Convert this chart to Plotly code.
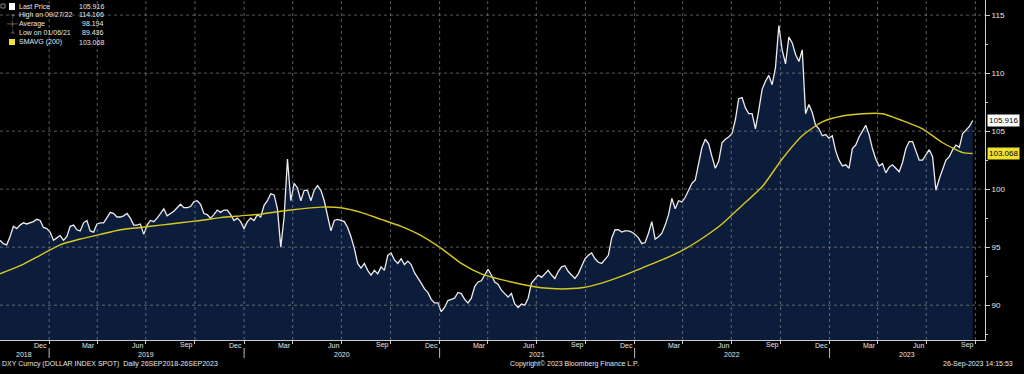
import pandas as pd
import plotly.graph_objects as go

# ---------------- data ----------------
price_2018_2019 = [95.6, 95.3, 95.2, 95.9, 96.8, 96.6, 96.9, 97.1, 97.0, 97.1,
                   97.2, 97.4, 97.3, 96.7, 96.6, 96.3, 95.6, 95.8, 96.0, 95.6,
                   95.9, 96.8, 96.9, 96.5, 96.4, 97.1, 97.3, 96.4, 96.3, 97.0,
                   97.1, 97.1, 97.5, 98.0, 97.9, 97.6, 97.6, 97.7, 97.9, 97.5,
                   96.9, 96.9, 97.0, 96.1, 96.9, 97.3, 97.2, 97.5, 97.9, 98.3,
                   97.7, 97.9, 98.1, 98.4, 98.7, 98.4, 98.4, 98.5, 98.9, 99.0,
                   98.7, 97.9, 97.8, 97.5, 97.8, 98.2, 98.0, 98.2, 98.2, 97.8,
                   97.3, 97.5, 97.2, 96.6, 97.2]
price_2020 = [97.5, 97.3, 97.8, 97.6, 98.6, 99.0, 99.6, 99.5, 98.3, 95.0,
              97.6, 102.6, 99.0, 100.5, 100.1, 99.0, 99.9, 99.9, 99.0, 99.9,
              100.3, 99.9, 99.0, 97.7, 96.4, 97.3, 97.4, 97.3, 97.2, 96.7,
              95.9, 94.9, 93.6, 93.2, 93.6, 93.0, 92.6, 93.0, 92.7, 93.3,
              93.0, 94.3, 94.5, 93.9, 93.6, 94.0, 93.5, 93.8, 93.5, 92.8,
              92.4, 91.9, 91.4, 91.1, 90.5, 90.2, 90.2, 89.44, 89.8, 90.4,
              90.5, 90.6, 91.1, 91.0, 90.5, 90.2, 90.6, 91.6, 92.0, 92.1,
              92.6, 93.1, 92.6, 92.0, 91.8]
price_2021 = [91.3, 91.0, 90.7, 91.0, 90.1, 89.8, 90.1, 90.0, 90.6, 91.9,
              92.3, 92.6, 92.4, 92.7, 93.0, 92.6, 92.3, 92.9, 93.3, 93.4,
              92.9, 92.6, 92.3, 92.7, 93.3, 94.0, 94.3, 94.5, 94.0, 93.7,
              93.6, 94.0, 94.3, 95.8, 96.5, 96.5, 96.3, 96.4, 96.4, 96.3,
              96.1, 95.8, 95.3, 95.4, 96.2, 97.2, 95.7, 95.9, 96.2, 96.9,
              97.8, 99.2, 98.3, 99.0]
price_2022a = [98.9, 99.3, 99.9, 100.5, 100.8, 102.2, 103.6, 104.3, 103.9, 102.8,
               101.8, 102.4, 104.0, 104.3, 104.5, 104.8, 106.0, 107.8, 107.9, 107.0,
               106.5]
price_2022b = [106.5, 105.2, 106.8, 108.6, 109.3, 109.8, 109.0, 110.5, 114.1, 112.0,
               110.8, 113.1, 112.6, 111.6, 111.0, 112.0, 106.5, 107.3, 106.6, 105.5,
               105.2, 104.6, 104.7, 104.4, 104.6, 103.3, 102.5, 102.0, 102.1, 101.8,
               103.5, 103.8, 104.5, 105.0, 105.5, 104.7, 103.5, 102.6, 102.0, 102.2,
               101.4, 101.9, 102.1, 101.8, 101.5, 102.3, 103.5, 104.1, 104.1, 103.3,
               102.5, 102.5, 103.0, 103.4, 102.8, 99.9, 100.9, 101.8, 102.5, 102.8,
               103.4, 103.8, 103.6, 104.8, 105.1, 105.4, 105.916]
last_price = price_2018_2019 + price_2020 + price_2021 + price_2022a + price_2022b

smavg_200 = [92.7, 93.4, 94.3, 95.2, 95.7, 96.1, 96.5, 96.7, 96.9, 97.1,
             97.3, 97.55, 97.7, 97.85, 98.1, 98.3, 98.45, 98.4, 98.0, 97.4,
             96.8, 96.0, 94.9, 93.6, 92.7, 92.2, 91.8, 91.5, 91.4, 91.5,
             91.9, 92.5, 93.2, 93.9, 94.7, 95.75, 97.0, 98.6, 100.2, 102.6,
             104.6, 105.8, 106.3, 106.5, 106.5, 105.9, 105.2, 104.0, 103.15, 103.068]

legend_labels = ["Last Price", "High on 09/27/22", "Average", "Low on 01/06/21", "SMAVG (200)"]
legend_values = ["105.916", "114.106", "98.194", "89.436", "103.068"]
legend_icons = ["", "┬", "─┼─", "┴", ""]

y_ticks = [90, 95, 100, 105, 110, 115]
month_names = {12: "Dec", 3: "Mar", 6: "Jun", 9: "Sep"}
years = [2018, 2019, 2020, 2021, 2022, 2023]

# ---------------- derived positions ----------------
dates = pd.date_range("2018-10-01", "2023-09-26", periods=len(last_price))
sma_dates = list(dates[::6]) + [dates[-1]]

X_START, X_END = "2018-10-01", "2023-10-19"
Y_MIN, Y_MAX = 87.0, 116.3

W, H = 1024, 374
ML, MR, MT, MB = 0, 39, 0, 34
PW, PH = W - ML - MR, H - MT - MB


def px(x):
    return (x - ML) / PW


def py(y):
    return 1 - (y - MT) / PH


grid_dates = [f"{y}-{m:02d}-01" for y in range(2019, 2024) for m in (1, 4, 7, 10)]
label_dates, label_text = [], []
for y in range(2018, 2024):
    for m in (3, 6, 9, 12):
        d = pd.Timestamp(f"{y}-{m:02d}-16")
        if pd.Timestamp(X_START) < d < pd.Timestamp("2023-10-01"):
            label_dates.append(d)
            label_text.append(month_names[m])
year_pos = {2018: "2018-11-15", 2019: "2019-07-02", 2020: "2020-07-02",
            2021: "2021-07-02", 2022: "2022-07-02", 2023: "2023-05-26"}

FONT = "Liberation Sans, Arial, sans-serif"
TXT = "#e6e6e6"
FS = 7

fig = go.Figure()
fig.add_trace(go.Scatter(
    x=dates, y=last_price, mode="lines", name="Last Price",
    line=dict(color="#ececec", width=1.3),
    fill="tozeroy", fillcolor="#0c1d3b", hoverinfo="skip"))
fig.add_trace(go.Scatter(
    x=sma_dates, y=smavg_200, mode="lines", name="SMAVG (200)",
    line=dict(color="#d8c920", width=1.4, shape="spline", smoothing=0.6),
    hoverinfo="skip"))

shapes = []
for d in grid_dates:
    shapes.append(dict(type="line", xref="x", yref="paper", x0=d, x1=d, y0=0, y1=1,
                       line=dict(color="rgba(150,150,150,0.6)", width=1, dash="dot"),
                       layer="above"))
for v in y_ticks:
    shapes.append(dict(type="line", xref="paper", yref="y", x0=0, x1=1, y0=v, y1=v,
                       line=dict(color="rgba(150,150,150,0.6)", width=1, dash="dot"),
                       layer="above"))
for y in years[1:]:
    shapes.append(dict(type="line", xref="x", yref="paper", x0=f"{y}-01-01", x1=f"{y}-01-01",
                       y0=py(348), y1=py(358), line=dict(color="#bbbbbb", width=1)))

annotations = []
for d, t in zip(label_dates, label_text):
    annotations.append(dict(x=d, y=py(345), xref="x", yref="paper", text=t,
                            showarrow=False, font=dict(family=FONT, size=FS, color=TXT),
                            xanchor="center", yanchor="middle"))
for y in years:
    annotations.append(dict(x=year_pos[y], y=py(354), xref="x", yref="paper", text=str(y),
                            showarrow=False, font=dict(family=FONT, size=FS, color=TXT),
                            xanchor="center", yanchor="middle"))
annotations.append(dict(x=px(0), y=py(364), xref="paper", yref="paper",
                        text="DXY Curncy (DOLLAR INDEX SPOT)  Daily 26SEP2018-26SEP2023",
                        showarrow=False, font=dict(family=FONT, size=FS, color=TXT),
                        xanchor="left", yanchor="middle"))
annotations.append(dict(x=px(508), y=py(364), xref="paper", yref="paper",
                        text="Copyright© 2023 Bloomberg Finance L.P.",
                        showarrow=False, font=dict(family=FONT, size=FS, color=TXT),
                        xanchor="left", yanchor="middle"))
annotations.append(dict(x=px(1015), y=py(364), xref="paper", yref="paper",
                        text="26-Sep-2023 14:15:53",
                        showarrow=False, font=dict(family=FONT, size=FS, color=TXT),
                        xanchor="right", yanchor="middle"))
# last value tags on the right axis
annotations.append(dict(x=1, xshift=2, y=last_price[-1], xref="paper", yref="y",
                        text=f"{last_price[-1]:.3f}", showarrow=False, bgcolor="#ffffff",
                        font=dict(family=FONT, size=FS + 1, color="#000000"),
                        xanchor="left", yanchor="middle", borderpad=1))
annotations.append(dict(x=1, xshift=2, y=smavg_200[-1], xref="paper", yref="y",
                        text=f"{smavg_200[-1]:.3f}", showarrow=False, bgcolor="#f0e030",
                        font=dict(family=FONT, size=FS + 1, color="#000000"),
                        xanchor="left", yanchor="middle", borderpad=1))
# legend block
row_y = [6, 15, 24, 33, 42]
for i, (lab, val, ic) in enumerate(zip(legend_labels, legend_values, legend_icons)):
    annotations.append(dict(x=px(17), y=py(row_y[i]), xref="paper", yref="paper", text=lab,
                            showarrow=False, font=dict(family=FONT, size=FS, color=TXT),
                            xanchor="left", yanchor="middle"))
    annotations.append(dict(x=px(106), y=py(row_y[i]), xref="paper", yref="paper", text=val,
                            showarrow=False, font=dict(family=FONT, size=FS, color=TXT),
                            xanchor="right", yanchor="middle"))
    if ic:
        annotations.append(dict(x=px(12), y=py(row_y[i]), xref="paper", yref="paper", text=ic,
                                showarrow=False, font=dict(family="DejaVu Sans", size=6, color="#aaaaaa"),
                                xanchor="center", yanchor="middle"))
shapes.append(dict(type="rect", xref="paper", yref="paper", x0=px(9), x1=px(15),
                   y0=py(10), y1=py(3), fillcolor="#ffffff", line=dict(width=0)))
shapes.append(dict(type="rect", xref="paper", yref="paper", x0=px(9), x1=px(15),
                   y0=py(45), y1=py(39), fillcolor="#f0e030", line=dict(width=0)))
shapes.append(dict(type="rect", xref="paper", yref="paper", x0=px(1), x1=px(5),
                   y0=py(8), y1=py(4), fillcolor="rgba(0,0,0,0)", line=dict(width=1, color="#888888")))

fig.update_layout(
    width=W, height=H,
    margin=dict(l=ML, r=MR, t=MT, b=MB, pad=0),
    paper_bgcolor="#000000", plot_bgcolor="#000000",
    showlegend=False,
    shapes=shapes, annotations=annotations,
    xaxis=dict(type="date", range=[X_START, X_END], showgrid=False, zeroline=False,
               tickmode="array", tickvals=grid_dates, showticklabels=False,
               ticks="outside", ticklen=3, tickcolor="#cccccc",
               showline=True, linecolor="#cccccc", linewidth=1),
    yaxis=dict(side="right", range=[Y_MIN, Y_MAX], showgrid=False, zeroline=False,
               tickmode="array", tickvals=y_ticks, ticks="outside", ticklen=4,
               tickcolor="#cccccc", tickfont=dict(family=FONT, size=FS + 1, color=TXT),
               showline=True, linecolor="#cccccc", linewidth=1,
               minor=dict(tickmode="linear", tick0=87.5, dtick=2.5, ticks="outside",
                          ticklen=2, tickcolor="#cccccc", showgrid=False)),
)

fig.write_html("out.html", config={"displayModeBar": False},
               post_script="document.body.style.margin='0';document.body.style.background='#000';")
